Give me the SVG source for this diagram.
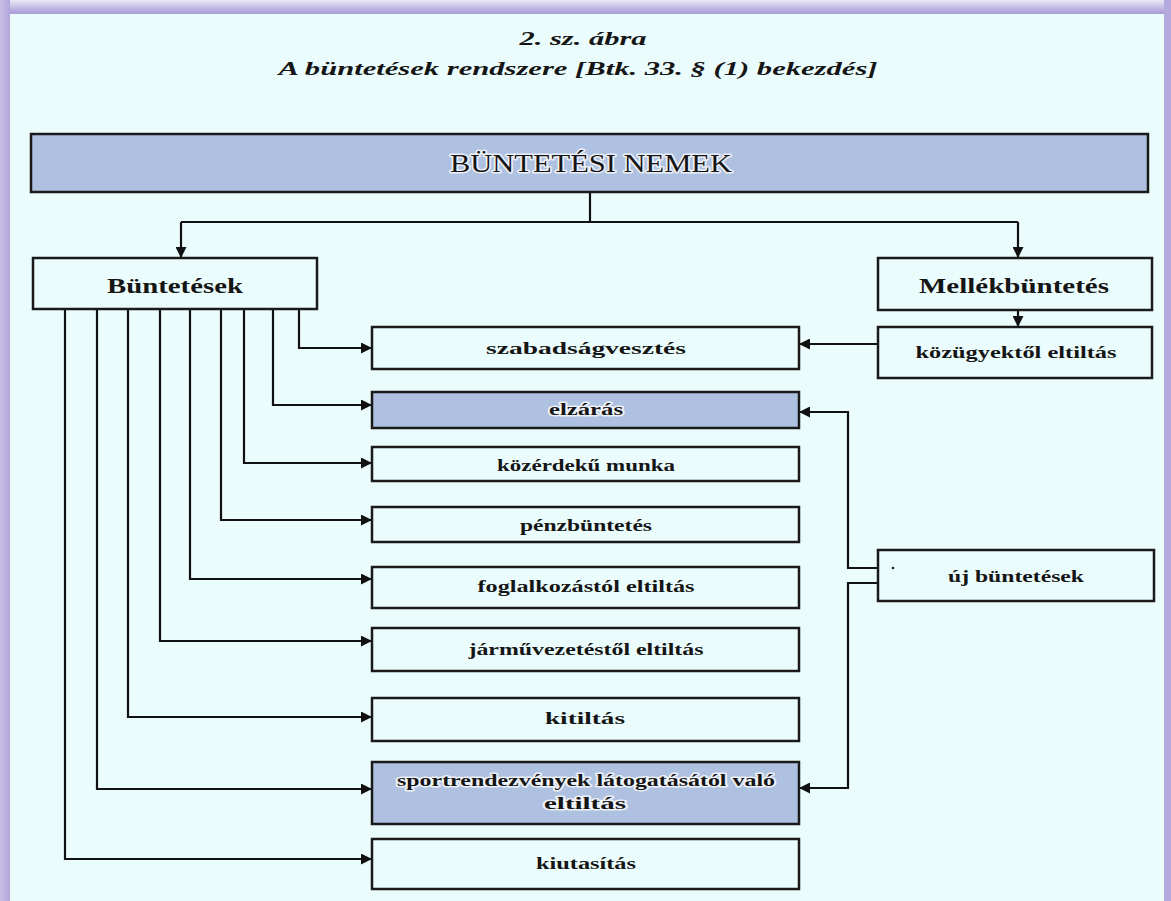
<svg xmlns="http://www.w3.org/2000/svg" width="1171" height="901" viewBox="0 0 1171 901">
<defs>
<linearGradient id="topband" x1="0" y1="0" x2="0" y2="1">
<stop offset="0" stop-color="#ebe8f5"/>
<stop offset="0.8" stop-color="#b3a7dc"/>
<stop offset="1" stop-color="#a99dd4"/>
</linearGradient>
<linearGradient id="side" x1="0" y1="0" x2="1" y2="0">
<stop offset="0" stop-color="#c9c0e8"/>
<stop offset="1" stop-color="#b1a6dc"/>
</linearGradient>
<marker id="ah" viewBox="0 0 10 10" refX="10" refY="5" markerWidth="5" markerHeight="5" orient="auto" markerUnits="strokeWidth">
<path d="M0,0 L10,5 L0,10 z" fill="#111"/>
</marker>
<style>
.box{fill:#ebfcfc;stroke:#1a1a1a;stroke-width:2.5}
.blue{fill:#afc1e0;stroke:#1a1a1a;stroke-width:2.5}
.t{font-family:"Liberation Serif",serif;font-weight:bold;fill:#151515;text-anchor:middle}
.head{font-family:"Liberation Serif",serif;font-weight:normal;font-size:25px;fill:#151515;text-anchor:middle}
.lbl{font-size:17px}
.big{font-size:20px}
.halo{stroke:#ffffff;stroke-width:3;stroke-opacity:0.75;paint-order:stroke;stroke-linejoin:round}
.ttl{font-family:"Liberation Serif",serif;font-weight:bold;font-style:italic;font-size:19px;fill:#151515;text-anchor:middle}
.c{fill:none;stroke:#111;stroke-width:2.2}
</style>
</defs>
<rect x="0" y="0" width="1171" height="901" fill="#ebfcfc"/>
<rect x="0" y="0" width="1171" height="14" fill="url(#topband)"/>
<rect x="0" y="0" width="10" height="901" fill="url(#side)"/>
<rect x="1164" y="0" width="7" height="901" fill="#b5aade"/>

<g id="title">
<text class="ttl" x="583" y="45" textLength="127" lengthAdjust="spacingAndGlyphs">2. sz. ábra</text>
<text class="ttl" x="578" y="75" textLength="599" lengthAdjust="spacingAndGlyphs">A büntetések rendszere [Btk. 33. § (1) bekezdés]</text>
</g>

<g id="connectors">
<path class="c" d="M590,192 V222"/>
<path class="c" d="M181,222 H1018"/>
<path class="c" d="M181,222 V258" marker-end="url(#ah)"/>
<path class="c" d="M1018,222 V258" marker-end="url(#ah)"/>
<path class="c" d="M1018,310 V327" marker-end="url(#ah)"/>
<path class="c" d="M878,344 H799" marker-end="url(#ah)"/>
<path class="c" d="M299,309 V348 H372" marker-end="url(#ah)"/>
<path class="c" d="M273,309 V405 H372" marker-end="url(#ah)"/>
<path class="c" d="M244,309 V463 H372" marker-end="url(#ah)"/>
<path class="c" d="M221,309 V520 H372" marker-end="url(#ah)"/>
<path class="c" d="M190,309 V579 H372" marker-end="url(#ah)"/>
<path class="c" d="M160,309 V641 H372" marker-end="url(#ah)"/>
<path class="c" d="M128,309 V717 H372" marker-end="url(#ah)"/>
<path class="c" d="M97,309 V789 H372" marker-end="url(#ah)"/>
<path class="c" d="M65,309 V859 H372" marker-end="url(#ah)"/>
<path class="c" d="M878,568 H848 V412 H799" marker-end="url(#ah)"/>
<path class="c" d="M878,583 H848 V788 H799" marker-end="url(#ah)"/>
</g>

<g id="nemek">
<rect class="blue" x="31" y="134" width="1117" height="58"/>
<text class="head halo" x="591" y="172" textLength="282" lengthAdjust="spacingAndGlyphs">BÜNTETÉSI NEMEK</text>
</g>
<g id="buntetesek">
<rect class="box" x="33" y="258" width="284" height="51"/>
<text class="t big" x="175" y="293" textLength="136" lengthAdjust="spacingAndGlyphs">Büntetések</text>
</g>
<g id="mellek">
<rect class="box" x="878" y="258" width="274" height="52"/>
<text class="t big" x="1014" y="293" textLength="190" lengthAdjust="spacingAndGlyphs">Mellékbüntetés</text>
</g>
<g id="kozugyek">
<rect class="box" x="878" y="327" width="274" height="51"/>
<text class="t lbl" x="1016" y="358" textLength="201" lengthAdjust="spacingAndGlyphs">közügyektől eltiltás</text>
</g>
<g id="uj">
<rect class="box" x="878" y="550" width="276" height="51"/>
<circle cx="893" cy="568" r="1.3" fill="#222"/>
<text class="t lbl" x="1016" y="582" textLength="136" lengthAdjust="spacingAndGlyphs">új büntetések</text>
</g>
<g id="szabadsag">
<rect class="box" x="372" y="327" width="427" height="42"/>
<text class="t lbl" x="586" y="354" textLength="200" lengthAdjust="spacingAndGlyphs">szabadságvesztés</text>
</g>
<g id="elzaras">
<rect class="blue" x="372" y="392" width="427" height="36"/>
<text class="t lbl halo" x="586" y="415" textLength="74" lengthAdjust="spacingAndGlyphs">elzárás</text>
</g>
<g id="kozerdeku">
<rect class="box" x="372" y="447" width="427" height="34"/>
<text class="t lbl" x="586" y="471" textLength="178" lengthAdjust="spacingAndGlyphs">közérdekű munka</text>
</g>
<g id="penz">
<rect class="box" x="372" y="507" width="427" height="35"/>
<text class="t lbl" x="586" y="531" textLength="132" lengthAdjust="spacingAndGlyphs">pénzbüntetés</text>
</g>
<g id="foglalkozas">
<rect class="box" x="372" y="567" width="427" height="41"/>
<text class="t lbl" x="586" y="592" textLength="217" lengthAdjust="spacingAndGlyphs">foglalkozástól eltiltás</text>
</g>
<g id="jarmu">
<rect class="box" x="372" y="628" width="427" height="43"/>
<text class="t lbl" x="586" y="655" textLength="235" lengthAdjust="spacingAndGlyphs">járművezetéstől eltiltás</text>
</g>
<g id="kitiltas">
<rect class="box" x="372" y="698" width="427" height="43"/>
<text class="t lbl" x="585" y="724" textLength="80" lengthAdjust="spacingAndGlyphs">kitiltás</text>
</g>
<g id="sport">
<rect class="blue" x="372" y="762" width="427" height="62"/>
<text class="t lbl halo" x="586" y="786" textLength="378" lengthAdjust="spacingAndGlyphs">sportrendezvények látogatásától való</text>
<text class="t lbl halo" x="585" y="809" textLength="82" lengthAdjust="spacingAndGlyphs">eltiltás</text>
</g>
<g id="kiutasitas">
<rect class="box" x="372" y="839" width="427" height="50"/>
<text class="t lbl" x="586" y="869" textLength="100" lengthAdjust="spacingAndGlyphs">kiutasítás</text>
</g>
</svg>
